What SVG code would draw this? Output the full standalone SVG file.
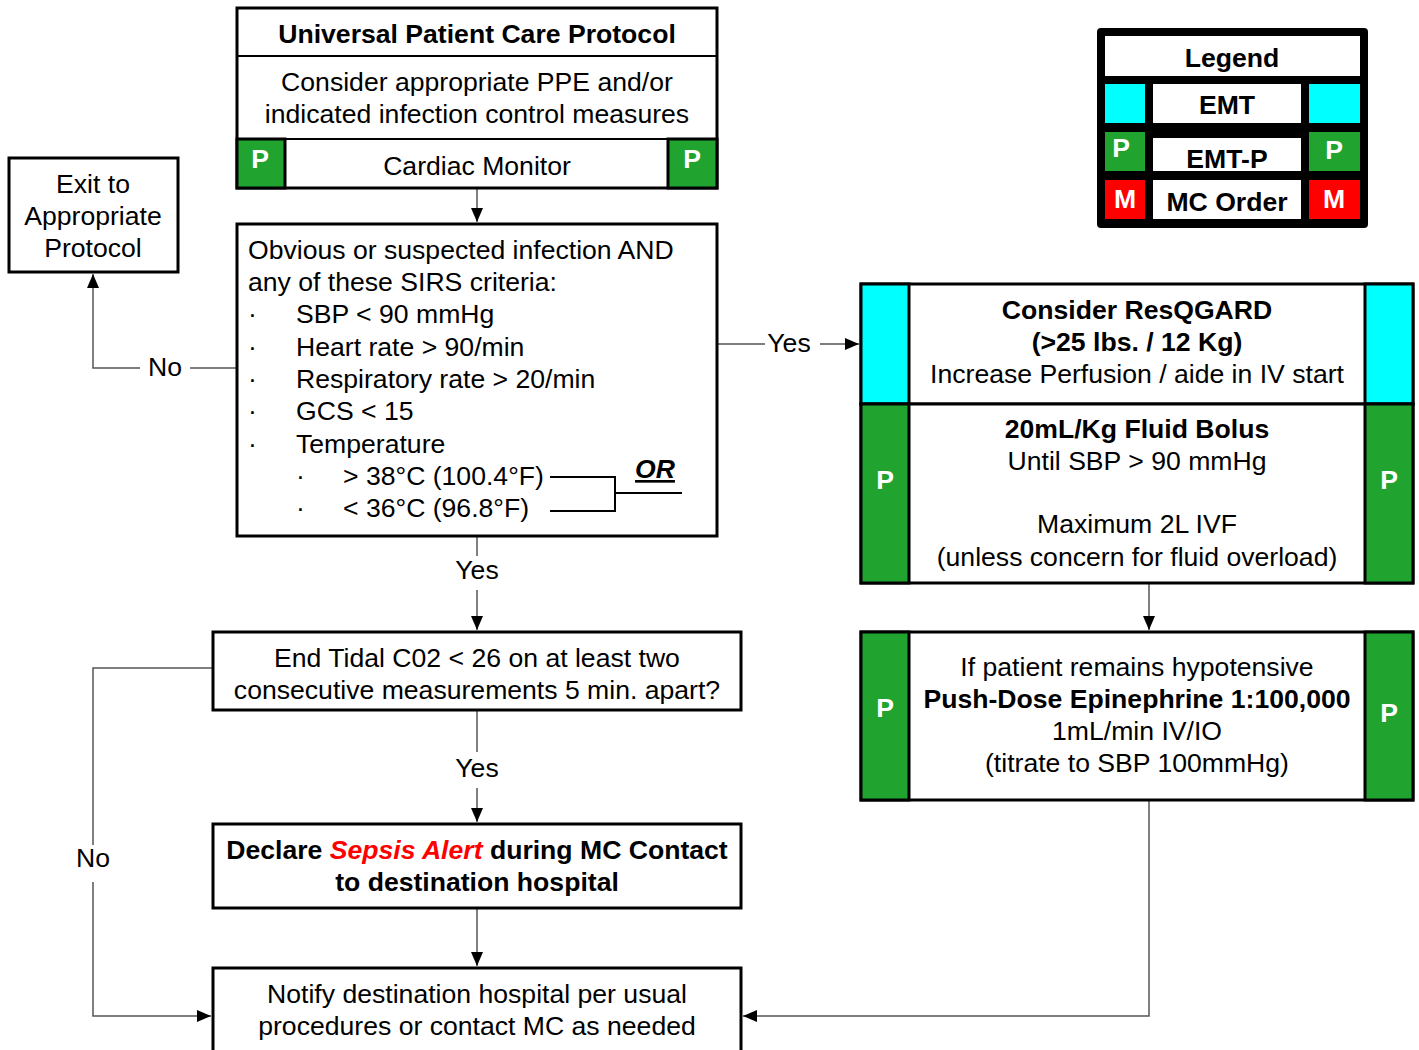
<svg xmlns="http://www.w3.org/2000/svg" width="1419" height="1050" viewBox="0 0 1419 1050">
<defs>
<marker id="arr" viewBox="0 0 14 12" refX="14" refY="6" markerWidth="14" markerHeight="12" markerUnits="userSpaceOnUse" orient="auto">
<path d="M0,0 L14,6 L0,12 Z" fill="#000"/>
</marker>
</defs>
<style>
text{font-family:"Liberation Sans",Arial,sans-serif;font-size:26.6px;fill:#000}
.c{text-anchor:middle}
.b{font-weight:bold}
.w{fill:#fff;font-weight:bold}
.box{fill:#fff;stroke:#000;stroke-width:3}
.g{fill:#21A32F;stroke:#000;stroke-width:3}
.cy{fill:#00FFFF;stroke:#000;stroke-width:3}
.r{fill:#FF0000}
.ln{fill:none;stroke:#555;stroke-width:1.5}
.blk{fill:none;stroke:#000;stroke-width:2}
</style>
<rect width="1419" height="1050" fill="#fff"/>

<g id="connectors">
<path class="ln" d="M477,188 V222" marker-end="url(#arr)"/>
<path class="ln" d="M237,368 H190 M140,368 H93 V274" marker-end="url(#arr)"/>
<text class="c" x="165" y="376">No</text>
<path class="ln" d="M717,344 H765 M820,344 H859" marker-end="url(#arr)"/>
<text class="c" x="789" y="352">Yes</text>
<path class="ln" d="M477,536 V556 M477,590 V630" marker-end="url(#arr)"/>
<text class="c" x="477" y="579">Yes</text>
<path class="ln" d="M477,710 V752 M477,788 V822" marker-end="url(#arr)"/>
<text class="c" x="477" y="777">Yes</text>
<path class="ln" d="M477,908 V966" marker-end="url(#arr)"/>
<path class="ln" d="M213,668 H93 V845 M93,882 V1016 H211" marker-end="url(#arr)"/>
<text class="c" x="93" y="867">No</text>
<path class="ln" d="M1149,583 V630" marker-end="url(#arr)"/>
<path class="ln" d="M1149,800 V1016 H743" marker-end="url(#arr)"/>
</g>

<g id="universal">
<rect class="box" x="237" y="8" width="480" height="180"/>
<line class="blk" x1="237" y1="56" x2="717" y2="56" stroke-width="3"/>
<line class="blk" x1="237" y1="139" x2="717" y2="139" stroke-width="3"/>
<rect class="g" x="237" y="139" width="48" height="49"/>
<rect class="g" x="668" y="139" width="49" height="49"/>
<text class="c b" x="477" y="43">Universal Patient Care Protocol</text>
<text class="c" x="477" y="91">Consider appropriate PPE and/or</text>
<text class="c" x="477" y="123">indicated infection control measures</text>
<text class="c" x="477" y="175">Cardiac Monitor</text>
<text class="c w" x="260" y="168">P</text>
<text class="c w" x="692" y="168">P</text>
</g>

<g id="sirs">
<rect class="box" x="237" y="224" width="480" height="312"/>
<text x="248" y="259">Obvious or suspected infection AND</text>
<text x="248" y="291">any of these SIRS criteria:</text>
<text x="248" y="323">·</text><text x="296" y="323">SBP &lt; 90 mmHg</text>
<text x="248" y="356">·</text><text x="296" y="356">Heart rate &gt; 90/min</text>
<text x="248" y="388">·</text><text x="296" y="388">Respiratory rate &gt; 20/min</text>
<text x="248" y="420">·</text><text x="296" y="420">GCS &lt; 15</text>
<text x="248" y="453">·</text><text x="296" y="453">Temperature</text>
<text x="296" y="485">·</text><text x="343" y="485">&gt; 38°C (100.4°F)</text>
<text x="296" y="517">·</text><text x="343" y="517">&lt; 36°C (96.8°F)</text>
<path class="blk" d="M550,477 H615 V511 H550 M615,493 H682"/>
<text class="c b" x="655" y="478" font-style="italic" text-decoration="underline" font-size="24">OR</text>
</g>

<g id="exit">
<rect class="box" x="9" y="158" width="169" height="114"/>
<text class="c" x="93" y="193">Exit to</text>
<text class="c" x="93" y="225">Appropriate</text>
<text class="c" x="93" y="257">Protocol</text>
</g>

<g id="resqgard">
<rect class="box" x="861" y="284" width="552" height="120"/>
<rect class="cy" x="861" y="284" width="48" height="120"/>
<rect class="cy" x="1365" y="284" width="48" height="120"/>
<text class="c b" x="1137" y="319">Consider ResQGARD</text>
<text class="c b" x="1137" y="351">(&gt;25 lbs. / 12 Kg)</text>
<text class="c" x="1137" y="383">Increase Perfusion / aide in IV start</text>
</g>

<g id="bolus">
<rect class="box" x="861" y="404" width="552" height="179"/>
<rect class="g" x="861" y="404" width="48" height="179"/>
<rect class="g" x="1365" y="404" width="48" height="179"/>
<text class="c b" x="1137" y="438">20mL/Kg Fluid Bolus</text>
<text class="c" x="1137" y="470">Until SBP &gt; 90 mmHg</text>
<text class="c" x="1137" y="533">Maximum 2L IVF</text>
<text class="c" x="1137" y="566">(unless concern for fluid overload)</text>
<text class="c w" x="885" y="489">P</text>
<text class="c w" x="1389" y="489">P</text>
</g>

<g id="epi">
<rect class="box" x="861" y="632" width="552" height="168"/>
<rect class="g" x="861" y="632" width="48" height="168"/>
<rect class="g" x="1365" y="632" width="48" height="168"/>
<text class="c" x="1137" y="676">If patient remains hypotensive</text>
<text class="c b" x="1137" y="708">Push-Dose Epinephrine 1:100,000</text>
<text class="c" x="1137" y="740">1mL/min IV/IO</text>
<text class="c" x="1137" y="772">(titrate to SBP 100mmHg)</text>
<text class="c w" x="885" y="717">P</text>
<text class="c w" x="1389" y="722">P</text>
</g>

<g id="etco2">
<rect class="box" x="213" y="632" width="528" height="78"/>
<text class="c" x="477" y="667">End Tidal C02 &lt; 26 on at least two</text>
<text class="c" x="477" y="699">consecutive measurements 5 min. apart?</text>
</g>

<g id="declare">
<rect class="box" x="213" y="824" width="528" height="84"/>
<text class="c b" x="477" y="859">Declare <tspan fill="#FF0000" font-style="italic">Sepsis Alert</tspan> during MC Contact</text>
<text class="c b" x="477" y="891">to destination hospital</text>
</g>

<g id="notify">
<rect class="box" x="213" y="968" width="528" height="90"/>
<text class="c" x="477" y="1003">Notify destination hospital per usual</text>
<text class="c" x="477" y="1035">procedures or contact MC as needed</text>
</g>

<g id="legend">
<rect x="1097" y="28" width="271" height="200" rx="4" fill="#000"/>
<rect x="1105" y="36" width="255" height="40" fill="#fff"/>
<rect x="1105" y="84" width="40" height="39" fill="#00FFFF"/>
<rect x="1153" y="84" width="148" height="39" fill="#fff"/>
<rect x="1309" y="84" width="51" height="39" fill="#00FFFF"/>
<rect x="1105" y="132" width="40" height="39" fill="#21A32F"/>
<rect x="1153" y="138" width="148" height="33" fill="#fff"/>
<rect x="1309" y="132" width="51" height="39" fill="#21A32F"/>
<rect x="1105" y="180" width="40" height="39" class="r"/>
<rect x="1153" y="180" width="148" height="39" fill="#fff"/>
<rect x="1309" y="180" width="51" height="39" class="r"/>
<text class="c b" x="1232" y="67">Legend</text>
<text class="c b" x="1227" y="114">EMT</text>
<text class="c b" x="1227" y="168">EMT-P</text>
<text class="c b" x="1227" y="211">MC Order</text>
<text class="c w" x="1121" y="157">P</text>
<text class="c w" x="1334" y="159">P</text>
<text class="c w" x="1125" y="208">M</text>
<text class="c w" x="1334" y="208">M</text>
</g>
</svg>
